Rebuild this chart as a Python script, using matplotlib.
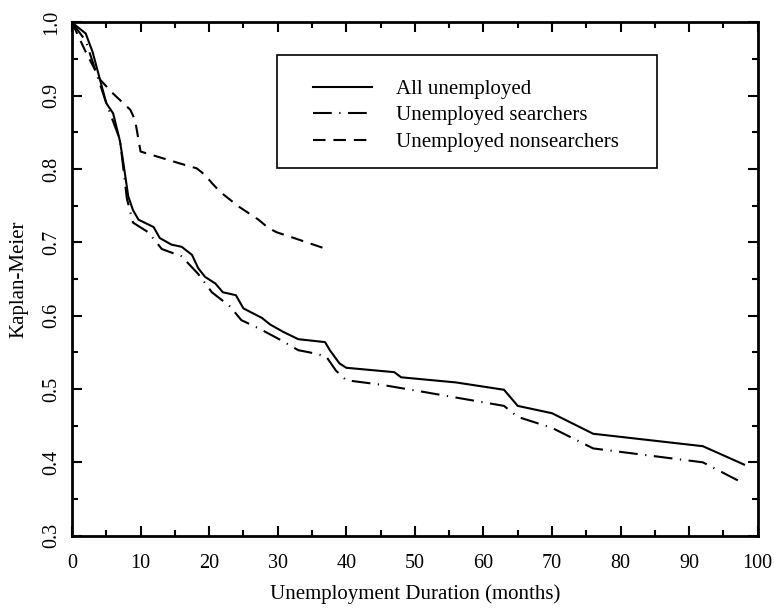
import numpy as np
import matplotlib.pyplot as plt
from matplotlib.patches import Rectangle
from matplotlib.ticker import MultipleLocator

plt.rcParams['font.family'] = ['Liberation Serif', 'DejaVu Serif']

# Kaplan-Meier survival estimates by unemployment duration (months)
all_months = [0, 2, 3, 5, 6, 7, 7.5, 8.2, 8.9, 9.7, 11.9, 12.8, 14.5, 16, 17.5,
              18.4, 19.4, 20.9, 22, 23.9, 25, 27.7, 28.9, 30.8, 33, 36.9, 37.6,
              39, 40, 47, 48, 56, 63, 65, 70, 76, 92, 98]
all_km = [1.0, 0.985, 0.96, 0.89, 0.876, 0.838, 0.808, 0.763, 0.744, 0.731, 0.721,
          0.706, 0.697, 0.694, 0.683, 0.665, 0.653, 0.644, 0.632, 0.628, 0.610,
          0.597, 0.588, 0.578, 0.568, 0.564, 0.553, 0.535, 0.529, 0.523, 0.516,
          0.509, 0.499, 0.477, 0.467, 0.439, 0.422, 0.397]

search_months = [0, 2, 5, 7, 8, 8.9, 11.1, 13.1, 16, 18.4, 20.4, 23, 24.7, 27.4,
                 30.2, 33, 35.7, 37.1, 38.5, 40, 45, 50.7, 63, 65, 70, 76, 92, 98]
search_km = [1.0, 0.975, 0.89, 0.84, 0.76, 0.727, 0.714, 0.691, 0.681, 0.657, 0.632,
             0.613, 0.594, 0.582, 0.568, 0.553, 0.548, 0.544, 0.525, 0.512, 0.506,
             0.497, 0.477, 0.462, 0.447, 0.419, 0.400, 0.371]

nonsearch_months = [0, 2, 4.1, 6, 8.5, 9.2, 10, 16.7, 18.2, 19.4, 20.4, 21.6,
                    24.3, 27.2, 28.6, 29.8, 32.7, 37.1]
nonsearch_km = [1.0, 0.96, 0.922, 0.903, 0.881, 0.867, 0.824, 0.805, 0.801, 0.792,
                0.781, 0.769, 0.749, 0.731, 0.720, 0.714, 0.705, 0.691]

fig = plt.figure(figsize=(7.74, 6.08), dpi=100)
ax = fig.add_axes([0.093, 0.119, 0.886, 0.844])

ax.plot(all_months, all_km, color='black', lw=1.5, ls='-', label='All unemployed')
ax.plot(search_months, search_km, color='black', lw=1.5,
        ls=(0, (9, 3.6, 0.6, 3.6)), label='Unemployed searchers')
ax.plot(nonsearch_months, nonsearch_km, color='black', lw=1.5,
        ls=(0, (6, 3.8)), label='Unemployed nonsearchers')

ax.set_xlim(0, 100)
ax.set_ylim(0.3, 1.0)
ax.xaxis.set_major_locator(MultipleLocator(10))
ax.xaxis.set_minor_locator(MultipleLocator(5))
ax.yaxis.set_major_locator(MultipleLocator(0.1))
ax.yaxis.set_minor_locator(MultipleLocator(0.05))
ax.tick_params(which='both', direction='in', top=True, right=True, width=1.5,
               labelsize=14.5)
ax.tick_params(which='major', length=7)
ax.tick_params(which='minor', length=4)
ax.tick_params(axis='x', pad=13)
ax.tick_params(axis='y', pad=8)
for lab in ax.get_yticklabels():
    lab.set_rotation(90)
    lab.set_va('center')
for sp in ax.spines.values():
    sp.set_linewidth(2)

ax.set_xlabel('Unemployment Duration (months)', fontsize=15, labelpad=8)
ax.set_ylabel('Kaplan-Meier', fontsize=15, labelpad=10)

# legend box drawn separately so the entries can sit inset from its edge
ax.add_patch(Rectangle((0.299, 0.717), 0.554, 0.22, transform=ax.transAxes,
                       fill=False, edgecolor='black', lw=1.2, zorder=5))
ax.legend(loc='upper left', bbox_to_anchor=(0.351, 0.889), fontsize=15,
          frameon=False, handlelength=2.85, handletextpad=1.15,
          labelspacing=0.33, borderpad=0, borderaxespad=0)

plt.savefig('out.png', dpi=100)
